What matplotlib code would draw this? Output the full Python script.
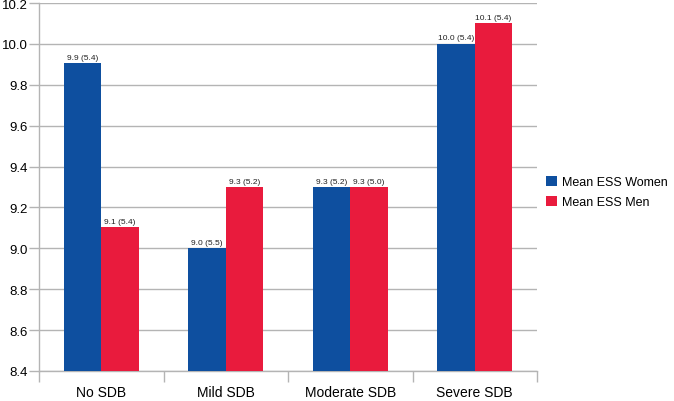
import matplotlib.pyplot as plt
import numpy as np

plt.rcParams['font.family'] = ['Liberation Sans', 'DejaVu Sans']

categories = ['No SDB', 'Mild SDB', 'Moderate SDB', 'Severe SDB']
women = [9.905, 9.0, 9.3, 10.0]
men = [9.104, 9.3, 9.3, 10.1]
women_labels = ['9.9 (5.4)', '9.0 (5.5)', '9.3 (5.2)', '10.0 (5.4)']
men_labels = ['9.1 (5.4)', '9.3 (5.2)', '9.3 (5.0)', '10.1 (5.4)']

blue = '#0e4f9f'
red = '#e91b3d'
grid_c = '#b4b4b4'

fig = plt.figure(figsize=(6.74, 4.02), dpi=100)
ax = fig.add_axes([39/674, 30/402, (537-39)/674, (372-4)/402])

x = np.arange(len(categories))
w = 0.3
ax.bar(x - w/2, women, width=w, bottom=0, color=blue, label='Mean ESS Women', zorder=3)
ax.bar(x + w/2, men, width=w, bottom=0, color=red, label='Mean ESS Men', zorder=3)

for i in range(len(categories)):
    ax.text(x[i] - w/2, women[i] + 0.012, women_labels[i], ha='center', va='bottom', fontsize=6, color='#222222')
    ax.text(x[i] + w/2, men[i] + 0.012, men_labels[i], ha='center', va='bottom', fontsize=6, color='#222222')

ax.set_ylim(8.4, 10.2)
ax.set_xlim(-0.5, 3.5)
ax.set_yticks(np.arange(8.4, 10.21, 0.2))
ax.set_yticklabels(['%.1f' % v for v in np.arange(8.4, 10.21, 0.2)], fontsize=9.5)
ax.yaxis.grid(True, color=grid_c, linewidth=1.0, zorder=0)

# category labels in the middle, tick marks at the borders
ax.set_xticks(np.arange(-0.5, 3.6, 1.0))
ax.set_xticklabels([])
ax.set_xticks(x, minor=True)
ax.set_xticklabels(categories, minor=True, fontsize=10)
ax.tick_params(axis='x', which='minor', length=0, pad=10)
ax.tick_params(axis='x', which='major', length=8, color=grid_c, width=1)
ax.tick_params(axis='y', length=7, color=grid_c, width=1, pad=1)

for s in ['top', 'right']:
    ax.spines[s].set_visible(False)
for s in ['left', 'bottom']:
    ax.spines[s].set_color(grid_c)
    ax.spines[s].set_linewidth(1)

fig.legend(loc='center left', bbox_to_anchor=(0.797, 0.52), frameon=False,
           fontsize=9, handlelength=0.9, handleheight=0.9, handletextpad=0.4,
           labelspacing=0.6, borderpad=0.2)

fig.savefig('out.png', dpi=100)
